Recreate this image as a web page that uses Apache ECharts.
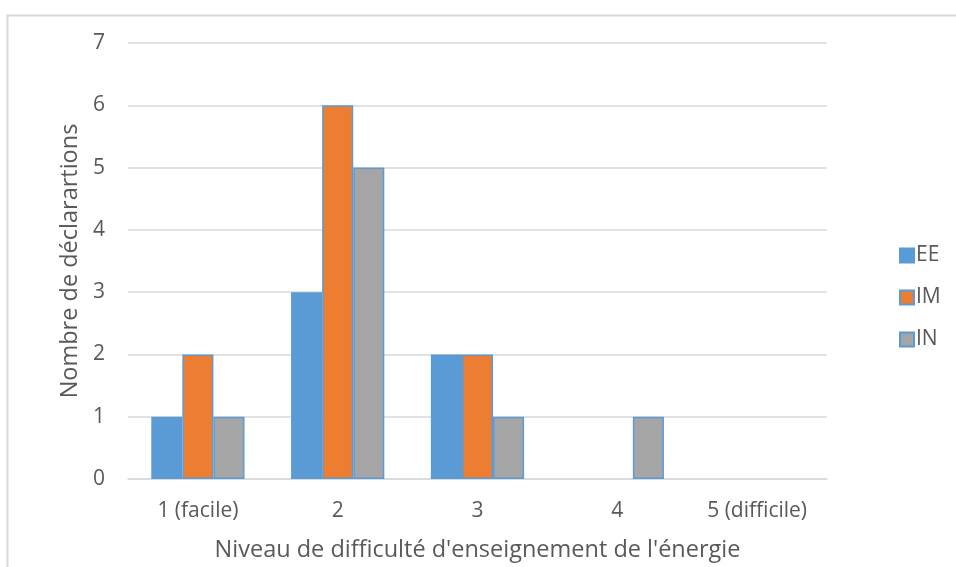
<!DOCTYPE html>
<html>
<head>
<meta charset="utf-8">
<script src="https://cdn.jsdelivr.net/npm/echarts@6/dist/echarts.min.js"></script>
<style>
html,body{margin:0;padding:0;background:#fff;}
#chart{width:956px;height:567px;}
</style>
</head>
<body>
<div id="chart"></div>
<script>
const categories = ['1 (facile)', '2', '3', '4', '5 (difficile)'];
const seriesNames = ['EE', 'IM', 'IN'];
const valuesEE = [1, 3, 2, 0, 0];
const valuesIM = [2, 6, 2, 0, 0];
const valuesIN = [1, 5, 1, 1, 0];
const colors = ['#5B9BD5', '#ED7D31', '#A5A5A5'];
const xAxisTitle = "Niveau de difficulté d'enseignement de l'énergie";
const yAxisTitle = 'Nombre de déclarartions';

const font = '"Open Sans", "Liberation Sans", sans-serif';
const chart = echarts.init(document.getElementById('chart'));
const allValues = [valuesEE, valuesIM, valuesIN];

chart.setOption({
  animation: false,
  backgroundColor: '#fff',
  textStyle: { fontFamily: font },
  graphic: [{
    type: 'polyline',
    silent: true,
    shape: { points: [[7.5, 600], [7.5, 15.5], [960, 15.5]] },
    style: { stroke: '#d9d9d9', lineWidth: 2, fill: null }
  }],
  grid: { left: 128, right: 129, top: 43, bottom: 83, containLabel: false },
  legend: {
    orient: 'vertical',
    left: 894,
    top: 240,
    itemWidth: 14,
    itemHeight: 14,
    itemGap: 21,
    icon: 'rect',
    textStyle: { fontFamily: font, fontSize: 21, color: '#595959', padding: [0, 0, 0, -3] },
    data: seriesNames
  },
  xAxis: {
    type: 'category',
    data: categories,
    name: xAxisTitle,
    nameLocation: 'middle',
    nameGap: 59,
    nameTextStyle: { fontFamily: font, fontSize: 23.5, color: '#595959' },
    axisLine: { lineStyle: { color: '#d9d9d9', width: 1.5 } },
    axisTick: { show: false },
    axisLabel: { fontFamily: font, fontSize: 21, color: '#595959', margin: 22 }
  },
  yAxis: {
    type: 'value',
    min: 0,
    max: 7,
    interval: 1,
    name: yAxisTitle,
    nameLocation: 'middle',
    nameGap: 44,
    nameTextStyle: { fontFamily: font, fontSize: 23.5, color: '#595959' },
    axisLine: { show: false },
    axisTick: { show: false },
    splitLine: { lineStyle: { color: '#d9d9d9', width: 1.5 } },
    axisLabel: { fontFamily: font, fontSize: 21, color: '#595959', margin: 23 }
  },
  series: seriesNames.map((name, i) => ({
    name: name,
    type: 'bar',
    data: allValues[i].map(v => v === 0 ? { value: v, itemStyle: { borderWidth: 0 } } : v),
    barGap: '0%',
    barCategoryGap: '33.3%',
    itemStyle: {
      color: colors[i],
      borderColor: '#5B9BD5',
      borderWidth: 1.5
    }
  }))
});
</script>
</body>
</html>
